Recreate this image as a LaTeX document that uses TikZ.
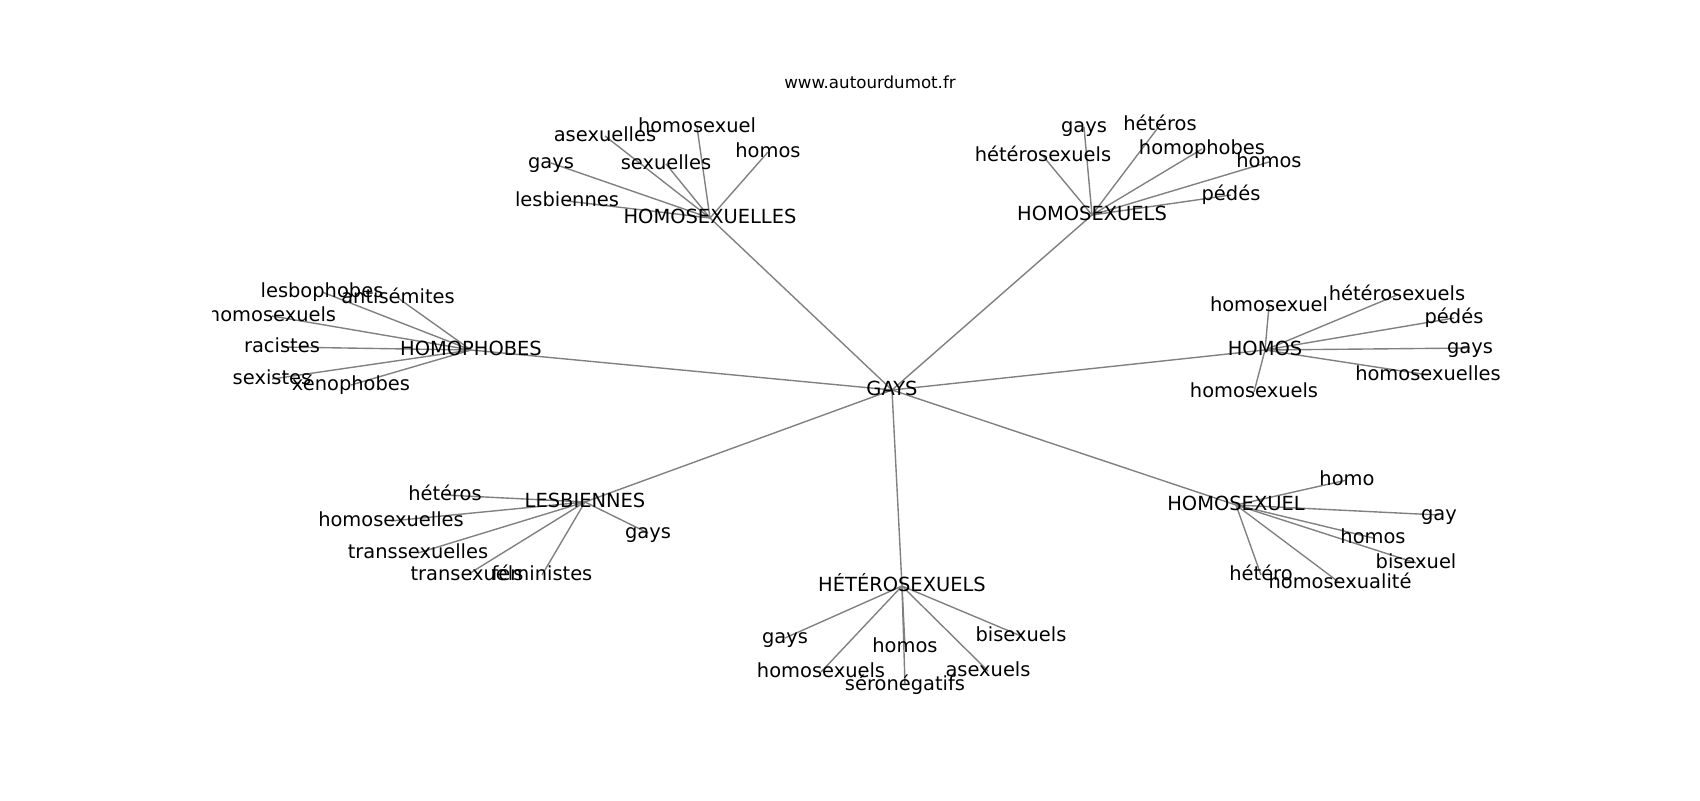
\documentclass[tikz,border=0pt]{standalone}
\usepackage{fontspec}
\setmainfont{DejaVu Sans}
\usetikzlibrary{backgrounds}
\tikzset{
    word/.style={font=\fontsize{14}{16}\selectfont, inner sep=0pt, text height=10.6pt, text depth=2.9pt},
    site/.style={font=\fontsize{12}{14}\selectfont, inner sep=0pt, text height=9.1pt, text depth=2.5pt},
    link/.style={draw=gray, line width=1pt}
}
\begin{document}
\begin{tikzpicture}[x=0.72pt,y=-0.72pt]
        \useasboundingbox (0,0) rectangle (1700,800);
        \node[site] (title) at (870,84) {www.autourdumot.fr};
        \begin{scope}
        \clip (212.5,96) rectangle (1530,712);
        \node[word] (gays) at (892,390) {GAYS};
        \node[word] (hsl) at (710,218) {HOMOSEXUELLES};
        \node[word] (hsls) at (1092,215) {HOMOSEXUELS};
        \node[word] (phob) at (471,350) {HOMOPHOBES};
        \node[word] (homs) at (1265,350) {HOMOS};
        \node[word] (lesb) at (585,502) {LESBIENNES};
        \node[word] (hsel) at (1236,505) {HOMOSEXUEL};
        \node[word] (htro) at (902,586) {HÉTÉROSEXUELS};
        \node[word] (hsl1) at (697,127) {homosexuel};
        \node[word] (hsl2) at (605,136) {asexuelles};
        \node[word] (hsl3) at (768,152) {homos};
        \node[word] (hsl4) at (551,163) {gays};
        \node[word] (hsl5) at (666,164) {sexuelles};
        \node[word] (hsl6) at (567,201) {lesbiennes};
        \node[word] (hsls1) at (1084,127) {gays};
        \node[word] (hsls2) at (1160,125) {hétéros};
        \node[word] (hsls3) at (1043,156) {hétérosexuels};
        \node[word] (hsls4) at (1202,149) {homophobes};
        \node[word] (hsls5) at (1269,162) {homos};
        \node[word] (hsls6) at (1231,195) {pédés};
        \node[word] (phob1) at (322,292) {lesbophobes};
        \node[word] (phob2) at (398,298) {antisémites};
        \node[word] (phob3) at (272,316) {homosexuels};
        \node[word] (phob4) at (282,347) {racistes};
        \node[word] (phob5) at (272,379) {sexistes};
        \node[word] (phob6) at (351,385) {xénophobes};
        \node[word] (homs1) at (1269,306) {homosexuel};
        \node[word] (homs2) at (1397,295) {hétérosexuels};
        \node[word] (homs3) at (1454,318) {pédés};
        \node[word] (homs4) at (1470,348) {gays};
        \node[word] (homs5) at (1428,375) {homosexuelles};
        \node[word] (homs6) at (1254,392) {homosexuels};
        \node[word] (lesb1) at (445,495) {hétéros};
        \node[word] (lesb2) at (391,521) {homosexuelles};
        \node[word] (lesb3) at (418,553) {transsexuelles};
        \node[word] (lesb4) at (467,575) {transexuels};
        \node[word] (lesb5) at (542,575) {féministes};
        \node[word] (lesb6) at (648,533) {gays};
        \node[word] (hsel1) at (1347,480) {homo};
        \node[word] (hsel2) at (1439,515) {gay};
        \node[word] (hsel3) at (1373,538) {homos};
        \node[word] (hsel4) at (1416,563) {bisexuel};
        \node[word] (hsel5) at (1261,575) {hétéro};
        \node[word] (hsel6) at (1340,583) {homosexualité};
        \node[word] (htro1) at (785,638) {gays};
        \node[word] (htro2) at (905,647) {homos};
        \node[word] (htro3) at (1021,636) {bisexuels};
        \node[word] (htro4) at (821,672) {homosexuels};
        \node[word] (htro5) at (988,671) {asexuels};
        \node[word] (htro6) at (905,685) {séronégatifs};
        \end{scope}
        \begin{pgfonlayer}{background}
        \foreach \hub in {hsl,hsls,phob,homs,lesb,hsel,htro}{
            \draw[link] (gays.center) -- (\hub.center);
            \foreach \i in {1,...,6}
                \draw[link] (\hub.center) -- (\hub\i.center);
        }
        \end{pgfonlayer}
\end{tikzpicture}
\end{document}
